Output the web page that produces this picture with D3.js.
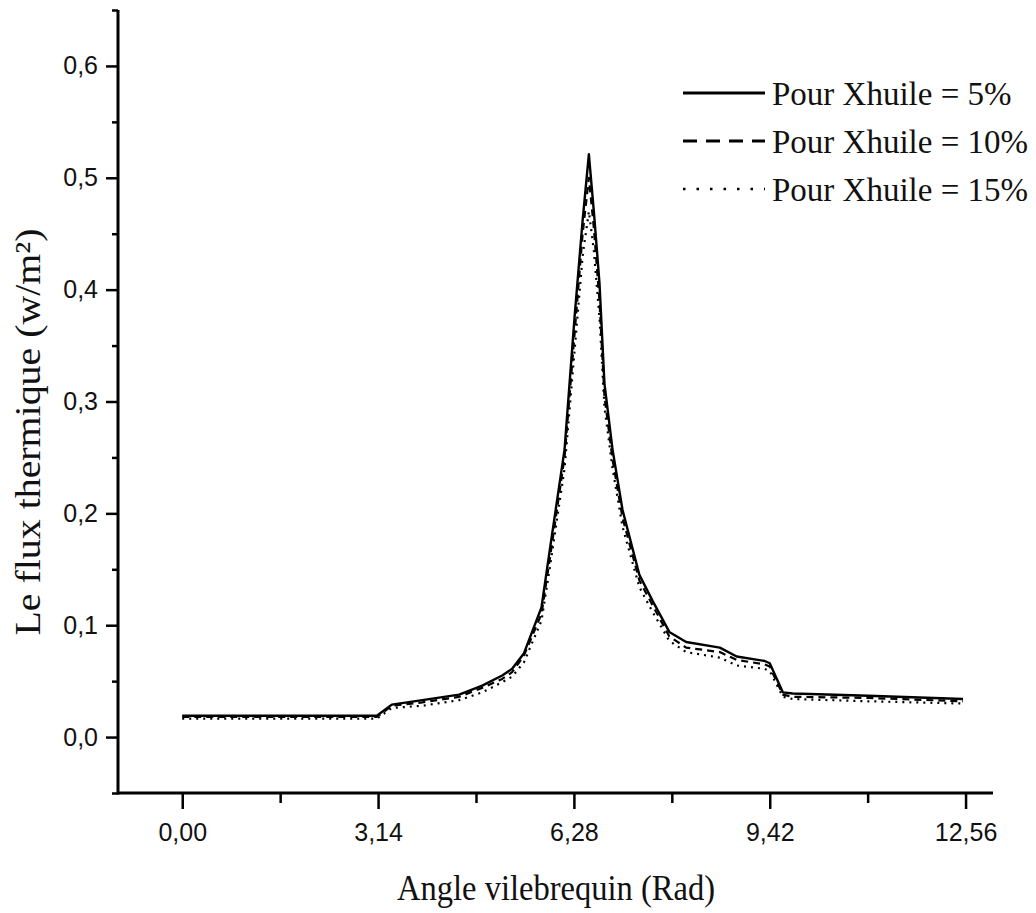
<!DOCTYPE html>
<html>
<head>
<meta charset="utf-8">
<script src="https://cdn.jsdelivr.net/npm/d3@7"></script>
<style>
  html, body { margin: 0; padding: 0; background: #fff; }
  svg { display: block; }
</style>
</head>
<body>
<svg id="chart" width="1036" height="913"></svg>
<script>
// ---- data ----
const angles = [0, 1.0, 2.0, 3.12, 3.36, 3.85, 4.44, 4.81, 5.13, 5.29, 5.48, 5.76, 5.89, 6.13, 6.29, 6.42, 6.52, 6.60, 6.69, 6.77, 6.90, 7.06, 7.33, 7.54, 7.81, 8.08, 8.62, 8.89, 9.34, 9.42, 9.63, 9.79, 11.0, 12.52];
const flux5  = [0.019, 0.019, 0.019, 0.019, 0.029, 0.033, 0.038, 0.046, 0.055, 0.061, 0.075, 0.116, 0.166, 0.257, 0.375, 0.462, 0.521, 0.470, 0.406, 0.316, 0.257, 0.203, 0.145, 0.122, 0.094, 0.085, 0.080, 0.072, 0.068, 0.066, 0.040, 0.039, 0.037, 0.034];
const flux10 = [0.018, 0.018, 0.018, 0.018, 0.028, 0.031, 0.036, 0.044, 0.052, 0.058, 0.073, 0.110, 0.158, 0.250, 0.360, 0.450, 0.500, 0.455, 0.390, 0.305, 0.248, 0.196, 0.140, 0.118, 0.090, 0.080, 0.076, 0.069, 0.065, 0.063, 0.038, 0.036, 0.035, 0.032];
const flux15 = [0.0165, 0.0165, 0.0165, 0.0165, 0.026, 0.028, 0.033, 0.040, 0.049, 0.054, 0.067, 0.104, 0.150, 0.240, 0.345, 0.430, 0.470, 0.435, 0.375, 0.295, 0.240, 0.188, 0.134, 0.112, 0.086, 0.076, 0.071, 0.064, 0.061, 0.059, 0.036, 0.034, 0.032, 0.030];
const seriesNames = ["Pour Xhuile = 5%", "Pour Xhuile = 10%", "Pour Xhuile = 15%"];

const xTickValues = [0, 3.14, 6.28, 9.42, 12.56];
const xTickLabels = ["0,00", "3,14", "6,28", "9,42", "12,56"];
const xMinorTicks = [1.57, 4.71, 7.85, 10.99];
const yTickValues = [0, 0.1, 0.2, 0.3, 0.4, 0.5, 0.6];
const yTickLabels = ["0,0", "0,1", "0,2", "0,3", "0,4", "0,5", "0,6"];
const yMinorTicks = [-0.05, 0.05, 0.15, 0.25, 0.35, 0.45, 0.55, 0.65];

const xTitle = "Angle vilebrequin (Rad)";
const yTitle = "Le flux thermique (w/m²)";

// ---- drawing ----
const svg = d3.select("#chart");
const x = d3.scaleLinear().domain([-1.03, 13.0]).range([118, 993]);
const y = d3.scaleLinear().domain([-0.05, 0.65]).range([793, 10]);

const sans = "'Liberation Sans', Arial, sans-serif";
const serif = "'Liberation Serif', 'Times New Roman', serif";

// x axis (major)
const gx = svg.append("g").attr("transform", `translate(0,${y(-0.05)})`)
  .call(d3.axisBottom(x).tickValues(xTickValues).tickSize(16).tickPadding(14)
    .tickFormat((d, i) => xTickLabels[i]));
gx.select(".domain").remove();
gx.selectAll(".tick line").attr("stroke", "#000").attr("stroke-width", 2.5);
gx.selectAll(".tick text").attr("font-family", sans).attr("font-size", 25).attr("fill", "#111");
// x minor
const gxm = svg.append("g").attr("transform", `translate(0,${y(-0.05)})`)
  .call(d3.axisBottom(x).tickValues(xMinorTicks).tickSize(10).tickFormat(""));
gxm.select(".domain").remove();
gxm.selectAll(".tick line").attr("stroke", "#000").attr("stroke-width", 2.5);

// y axis (major)
const gy = svg.append("g").attr("transform", `translate(${x(-1.03)},0)`)
  .call(d3.axisLeft(y).tickValues(yTickValues).tickSize(12).tickPadding(8)
    .tickFormat((d, i) => yTickLabels[i]));
gy.select(".domain").remove();
gy.selectAll(".tick line").attr("stroke", "#000").attr("stroke-width", 2.5);
gy.selectAll(".tick text").attr("font-family", sans).attr("font-size", 25).attr("fill", "#111");
// y minor
const gym = svg.append("g").attr("transform", `translate(${x(-1.03)},0)`)
  .call(d3.axisLeft(y).tickValues(yMinorTicks).tickSize(6).tickFormat(""));
gym.select(".domain").remove();
gym.selectAll(".tick line").attr("stroke", "#000").attr("stroke-width", 2.5);

// axis lines
svg.append("line")
  .attr("x1", x.range()[0]).attr("x2", x.range()[1])
  .attr("y1", y(-0.05)).attr("y2", y(-0.05))
  .attr("stroke", "#000").attr("stroke-width", 3);
svg.append("line")
  .attr("x1", x(-1.03)).attr("x2", x(-1.03))
  .attr("y1", y.range()[0] + 1.5).attr("y2", y.range()[1])
  .attr("stroke", "#000").attr("stroke-width", 3);

// axis titles
svg.append("text")
  .attr("x", 556).attr("y", 900)
  .attr("text-anchor", "middle")
  .attr("font-family", serif).attr("font-size", 36)
  .attr("textLength", 318).attr("lengthAdjust", "spacingAndGlyphs")
  .attr("fill", "#111")
  .text(xTitle);
svg.append("text")
  .attr("transform", "translate(40,432) rotate(-90)")
  .attr("text-anchor", "middle")
  .attr("font-family", serif).attr("font-size", 36)
  .attr("textLength", 407).attr("lengthAdjust", "spacingAndGlyphs")
  .attr("fill", "#111")
  .text(yTitle);

// series
const styles = [
  { dash: null, width: 2.4, legendDash: null, legendWidth: 3 },
  { dash: "7,5", width: 2.2, legendDash: "14,9", legendWidth: 3 },
  { dash: "2,5", width: 2.2, legendDash: "2.5,11", legendWidth: 2.5 }
];
const allSeries = [flux5, flux10, flux15];
const line = d3.line().x((d, i) => x(angles[i])).y(d => y(d));

// draw the lower ones first
[2, 1, 0].forEach(k => {
  svg.append("path")
    .datum(allSeries[k])
    .attr("d", line)
    .attr("fill", "none")
    .attr("stroke", "#000")
    .attr("stroke-width", styles[k].width)
    .attr("stroke-linejoin", "round")
    .attr("stroke-dasharray", styles[k].dash);
});

// legend
const legendRows = [93, 141, 189];
seriesNames.forEach((name, k) => {
  svg.append("line")
    .attr("x1", 683).attr("x2", 765)
    .attr("y1", legendRows[k]).attr("y2", legendRows[k])
    .attr("stroke", "#000")
    .attr("stroke-width", styles[k].legendWidth)
    .attr("stroke-dasharray", styles[k].legendDash);
  svg.append("text")
    .attr("x", 772).attr("y", legendRows[k] + 12)
    .attr("font-family", serif).attr("font-size", 33)
    .attr("fill", "#111")
    .text(name);
});
</script>
</body>
</html>
